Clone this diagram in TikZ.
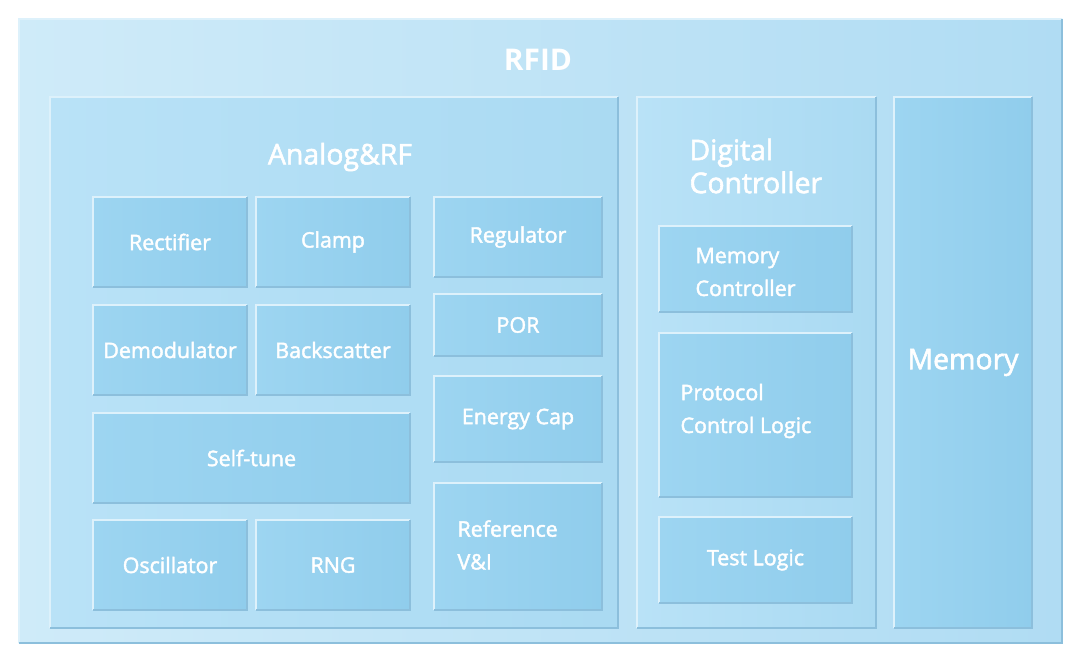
\documentclass[tikz,border=0pt]{standalone}
\usepackage{fontspec}
\setmainfont{Open Sans}
\newfontfamily\lblfont{Open Sans}[FakeBold=2]
\usepackage{tikz}

\definecolor{outerL}{HTML}{CFEBF9}
\definecolor{outerR}{HTML}{B0DCF3}
\definecolor{panelL}{HTML}{B9E2F7}
\definecolor{panelR}{HTML}{AADAF2}
\definecolor{blockL}{HTML}{9DD5F1}
\definecolor{blockR}{HTML}{90CDEC}
\definecolor{edgeLite}{HTML}{DDF1FB}
\definecolor{edgeDark}{HTML}{8CBFDC}

\begin{document}
\begin{tikzpicture}[x=1bp, y=-1bp,
    sz/.style 2 args = {minimum width=#1bp, minimum height=#2bp, inner sep=0pt},
    outer/.style = {left color=outerL, right color=outerR},
    panel/.style = {left color=panelL, right color=panelR},
    blk/.style = {left color=blockL, right color=blockR, text=white, font=\lblfont\fontsize{21.5}{26}\selectfont},
    ttl/.style = {text=white, font=\lblfont\fontsize{28.5}{33}\selectfont, align=left},
    lbl/.style = {text=white, font=\lblfont\fontsize{21.5}{33}\selectfont, align=left}]
        \useasboundingbox (0,0) rectangle (1080,662);
        \node[outer, sz={1043}{624}] (rfid) at (540.5,331) {};
        \node[panel, sz={568}{531}] (analog) at (334,362.5) {};
        \node[panel, sz={239}{531}] (digital) at (756.5,362.5) {};
        \node[blk, sz={138}{531}, font=\lblfont\fontsize{28.5}{30}\selectfont] (mem) at (963,362.5) {Memory};
        \node[blk, sz={154}{90}] (rect) at (170,242) {Rectifier};
        \node[blk, sz={154}{90}] (clamp) at (333,242) {Clamp};
        \node[blk, sz={154}{90}] (demod) at (170,350) {Demodulator};
        \node[blk, sz={154}{90}] (bsc) at (333,350) {Backscatter};
        \node[blk, sz={317}{90}] (tune) at (251.5,458) {Self-tune};
        \node[blk, sz={154}{90}] (osc) at (170,565) {Oscillator};
        \node[blk, sz={154}{90}] (rng) at (333,565) {RNG};
        \node[blk, sz={168}{80}] (reg) at (518,237) {Regulator};
        \node[blk, sz={168}{62}] (por) at (518,325) {POR};
        \node[blk, sz={168}{86}] (ecap) at (518,419) {Energy Cap};
        \node[blk, sz={168}{127}] (ref) at (518,546.5) {};
        \node[blk, sz={193}{86}] (memctl) at (755.5,269) {};
        \node[blk, sz={193}{164}] (proto) at (755.5,415) {};
        \node[blk, sz={193}{86}] (test) at (755.5,560) {Test Logic};
        \foreach \n in {rfid,analog,digital,mem,rect,clamp,demod,bsc,tune,osc,rng,reg,por,ecap,ref,memctl,proto,test} {
            \draw[edgeLite, line width=2bp] (\n.south west) -- (\n.north west) -- (\n.north east);
            \draw[edgeDark, line width=2bp] (\n.north east) -- (\n.south east) -- (\n.south west);
        }
        \node[text=white, font=\bfseries\fontsize{30}{34}\selectfont] (rfid-t) at (538,60) {RFID};
        \node[ttl] (analog-t) at (340,157) {Analog\&RF};
        \node[ttl, anchor=west] (digital-t) at (686,166) {Digital\\Controller};
        \node[lbl, anchor=west] (memctl-t) at (692,272) {Memory\\Controller};
        \node[lbl, anchor=west] (proto-t) at (677,411) {Protocol\\Control Logic};
        \node[lbl, anchor=west] (ref-t) at (454,545) {Reference\\V\&I};
\end{tikzpicture}
\end{document}
